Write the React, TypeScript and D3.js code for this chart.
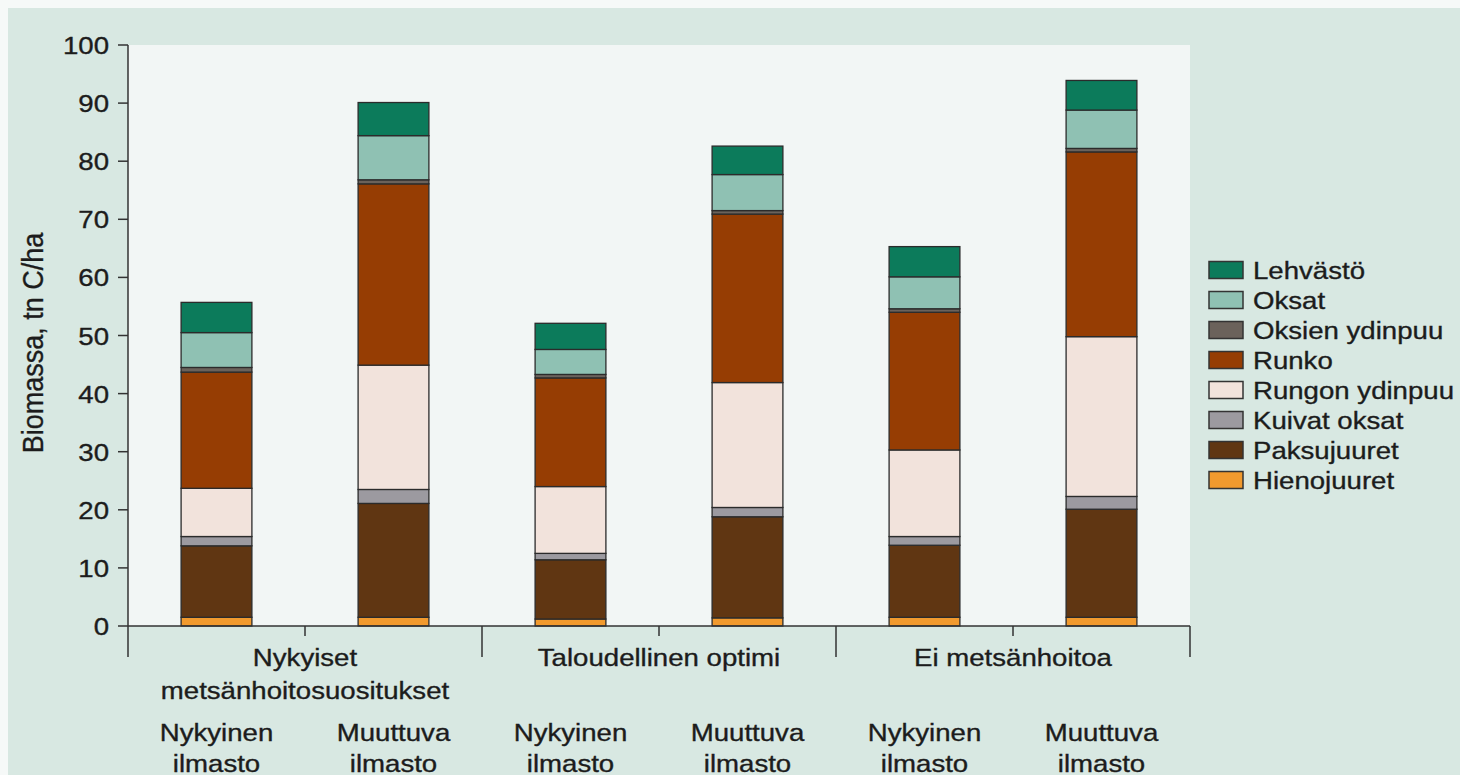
import React from "react";
import * as d3 from "d3";

// ---- data ----
const groups = ["Nykyiset|metsänhoitosuositukset", "Taloudellinen optimi", "Ei metsänhoitoa"];
const climates = ["Nykyinen|ilmasto", "Muuttuva|ilmasto"];
const yTicks = [0, 10, 20, 30, 40, 50, 60, 70, 80, 90, 100];

// bar order: group1 (nykyinen, muuttuva), group2 (...), group3 (...)
const hienojuuret = [1.5, 1.5, 1.2, 1.4, 1.5, 1.5];
const paksujuuret = [12.3, 19.6, 10.2, 17.4, 12.4, 18.6];
const kuivatOksat = [1.6, 2.4, 1.1, 1.6, 1.5, 2.2];
const rungonYdinpuu = [8.3, 21.4, 11.5, 21.5, 14.9, 27.5];
const runko = [20.0, 31.2, 18.7, 29.0, 23.7, 31.8];
const oksienYdinpuu = [0.8, 0.7, 0.6, 0.6, 0.6, 0.6];
const oksat = [6.0, 7.6, 4.3, 6.2, 5.5, 6.6];
const lehvasto = [5.2, 5.7, 4.5, 4.9, 5.2, 5.1];

const seriesNames = [
  "Hienojuuret",
  "Paksujuuret",
  "Kuivat oksat",
  "Rungon ydinpuu",
  "Runko",
  "Oksien ydinpuu",
  "Oksat",
  "Lehvästö",
];
const seriesValues = [hienojuuret, paksujuuret, kuivatOksat, rungonYdinpuu, runko, oksienYdinpuu, oksat, lehvasto];
const seriesColors = ["#f19a2e", "#603612", "#9c9aa0", "#f2e3dc", "#963d03", "#6b625b", "#8fc1b3", "#0c7b5b"];

const W = 1460;
const H = 775;
const FONT = "'Liberation Sans', Arial, Helvetica, sans-serif";
const SX = 1.15;
const FS = 24;
const TEXT_COLOR = "#1c1c1c";

export default function App() {
  const x0 = 128;
  const x1 = 1190;
  const yBottom = 626;
  const yTop = 45;
  const y = d3.scaleLinear().domain([0, 100]).range([yBottom, yTop]);
  const gx = d3.scaleBand<string>().domain(groups).range([x0, x1]).padding(0);
  const cx = d3
    .scaleBand<string>()
    .domain(climates)
    .range([0, gx.bandwidth()])
    .paddingInner(0.6)
    .paddingOuter(0.3);

  const bars = groups.flatMap((g, gi) => climates.map((c, ci) => ({ g, c, idx: gi * 2 + ci })));
  const rows = bars.map((b) => {
    const r: Record<string, number> = {};
    seriesNames.forEach((s, si) => (r[s] = seriesValues[si][b.idx]));
    return r;
  });
  const stacked = d3.stack<Record<string, number>>().keys(seriesNames)(rows);

  const txt = (x: number, yy: number, s: string, anchor: string, key?: string) => (
    <text
      key={key}
      transform={`translate(${x},${yy}) scale(${SX},1)`}
      textAnchor={anchor as any}
      fontFamily={FONT}
      fontSize={FS}
      fill={TEXT_COLOR}
      stroke={TEXT_COLOR}
      strokeWidth={0.35}
    >
      {s}
    </text>
  );

  const legendOrder = [...seriesNames].reverse();

  return (
    <svg
      width={W}
      height={H}
      style={{ position: "fixed", left: 0, top: 0, display: "block" }}
    >
      <rect x={0} y={0} width={W} height={H} fill="#f6f9f8" />
      <rect x={8} y={8} width={W - 8} height={H - 8} fill="#d8e8e2" />
      <rect x={x0} y={yTop} width={x1 - x0} height={yBottom - yTop} fill="#f2f6f5" />

      {/* bars */}
      {stacked.map((layer, si) => (
        <g key={layer.key}>
          {layer.map((d, bi) => {
            const b = bars[bi];
            const bx = (gx(b.g) ?? 0) + (cx(b.c) ?? 0);
            return (
              <rect
                key={bi}
                x={bx}
                y={y(d[1])}
                width={cx.bandwidth()}
                height={y(d[0]) - y(d[1])}
                fill={seriesColors[si]}
                stroke="#2b2b2b"
                strokeWidth={1.3}
              />
            );
          })}
        </g>
      ))}

      {/* y axis */}
      <line x1={x0} x2={x0} y1={yTop} y2={657} stroke="#333" strokeWidth={1.5} />
      {yTicks.map((t) => (
        <g key={t}>
          <line x1={118} x2={x0} y1={y(t)} y2={y(t)} stroke="#333" strokeWidth={1.5} />
          {txt(109, y(t) + 9, String(t), "end")}
        </g>
      ))}
      <text
        transform={`translate(43,343) rotate(-90) scale(1,1.1)`}
        textAnchor="middle"
        fontFamily={FONT}
        fontSize={27}
        fill={TEXT_COLOR}
        stroke={TEXT_COLOR}
        strokeWidth={0.3}
      >
        Biomassa, tn C/ha
      </text>

      {/* x axis */}
      <line x1={x0} x2={x1} y1={yBottom} y2={yBottom} stroke="#333" strokeWidth={1.5} />
      {groups.map((g) => (
        <line key={"sep" + g} x1={(gx(g) ?? 0) + gx.bandwidth()} x2={(gx(g) ?? 0) + gx.bandwidth()} y1={yBottom} y2={657} stroke="#333" strokeWidth={1.5} />
      ))}
      {groups.map((g) => (
        <line key={"mid" + g} x1={(gx(g) ?? 0) + gx.bandwidth() / 2} x2={(gx(g) ?? 0) + gx.bandwidth() / 2} y1={yBottom} y2={636} stroke="#333" strokeWidth={1.5} />
      ))}
      {groups.map((g) => {
        const lines = g.split("|");
        const cxg = (gx(g) ?? 0) + gx.bandwidth() / 2;
        return <g key={"gl" + g}>{lines.map((l, li) => txt(cxg, 666 + li * 33, l, "middle", l))}</g>;
      })}
      {bars.map((b, bi) => {
        const cxb = (gx(b.g) ?? 0) + (cx(b.c) ?? 0) + cx.bandwidth() / 2;
        return <g key={"cl" + bi}>{b.c.split("|").map((l, li) => txt(cxb, 741 + li * 31, l, "middle", l))}</g>;
      })}

      {/* legend */}
      {legendOrder.map((s, i) => {
        const si = seriesNames.indexOf(s);
        const cy = 270 + i * 30;
        return (
          <g key={"lg" + s}>
            <rect x={1209} y={cy - 8.5} width={34} height={17} fill={seriesColors[si]} stroke="#333" strokeWidth={1.5} />
            {txt(1253, cy + 9, s, "start")}
          </g>
        );
      })}
    </svg>
  );
}
